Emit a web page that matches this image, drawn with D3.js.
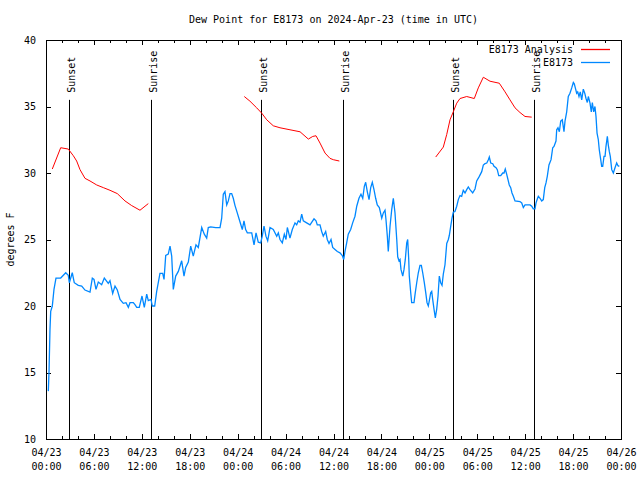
<!DOCTYPE html>
<html><head><meta charset="utf-8">
<script src="https://cdn.jsdelivr.net/npm/d3@7"></script>
<style>
body{margin:0;background:#fff}
svg{display:block}
text{font-family:"DejaVu Sans Mono",monospace;font-size:10px;fill:#000}
</style></head><body>
<svg id="c" width="640" height="480"></svg>
<script>
const chartTitle = "Dew Point for E8173 on 2024-Apr-23 (time in UTC)";
const yAxisLabel = "degrees F";
const startTime = "2024-04-23T00:00:00Z";
const spanHours = 72;
const yDomain = [10, 40];
const yTicks = [10, 15, 20, 25, 30, 35, 40];
const seriesNames = ["E8173 Analysis", "E8173"];
const seriesColors = ["#ff0000", "#0088ff"];

// observed dew point (hours since start, degrees F)
const obsHours = [
0.29,0.38,0.50,0.59,0.79,1.00,1.25,1.84,2.47,2.79,
2.92,3.29,3.54,4.04,4.47,4.88,5.51,5.80,6.01,6.26,
6.55,6.97,7.30,7.80,8.01,8.35,8.64,8.93,9.27,9.68,
10.02,10.31,10.52,10.93,11.14,11.36,11.68,12.02,12.31,12.61,
12.81,13.15,13.31,13.61,13.86,14.27,14.61,14.78,14.99,15.31,
15.53,15.74,15.94,16.24,16.57,16.99,17.28,17.49,17.82,18.12,
18.44,18.78,19.07,19.50,19.82,20.12,20.32,20.62,21.25,21.79,
22.00,22.20,22.41,22.63,22.83,23.04,23.25,23.45,23.67,23.95,
24.20,24.58,24.79,25.00,25.21,25.76,26.05,26.30,26.58,26.88,
27.08,27.30,27.54,27.76,28.05,28.46,28.89,29.09,29.30,29.59,
29.84,30.05,30.22,30.55,30.84,31.18,31.39,31.59,31.81,32.02,
32.22,32.64,33.06,33.56,33.81,33.97,34.31,34.52,34.72,35.02,
35.22,35.44,35.69,35.90,36.19,36.48,36.81,37.10,37.28,37.44,
37.65,37.85,38.15,38.40,38.69,38.91,39.19,39.44,39.66,39.86,
40.03,40.23,40.45,40.66,40.86,41.07,41.28,41.48,41.74,42.04,
42.24,42.45,42.57,42.74,42.86,43.08,43.29,43.49,43.70,43.92,
44.04,44.20,44.33,44.45,44.67,44.83,44.99,45.17,45.29,45.42,
45.49,45.67,45.79,46.08,46.24,46.42,46.62,46.83,47.00,47.17,
47.37,47.55,47.71,47.87,48.00,48.17,48.30,48.42,48.59,48.75,
48.92,49.09,49.25,49.42,49.59,49.75,49.96,50.18,50.38,50.50,
50.68,50.84,51.00,51.21,51.43,51.63,51.84,52.05,52.25,52.47,
52.68,52.88,53.09,53.43,53.72,53.93,54.26,54.56,54.76,54.97,
55.19,55.39,55.51,55.69,55.94,56.10,56.35,56.51,56.69,56.94,
57.19,57.35,57.51,57.69,57.85,58.01,58.19,58.35,58.52,58.73,
59.35,59.57,59.77,59.98,60.61,60.82,61.02,61.23,61.36,61.52,
61.65,61.86,62.07,62.27,62.45,62.61,62.77,62.98,63.24,63.45,
63.61,63.86,63.95,64.11,64.28,64.45,64.65,64.86,64.99,65.20,
65.40,65.61,65.83,66.03,66.15,66.28,66.45,66.58,66.74,66.90,
67.08,67.28,67.46,67.62,67.78,67.91,68.12,68.28,68.41,68.58,
68.74,68.87,69.00,69.16,69.28,69.46,69.58,69.71,69.87,70.00,
70.12,70.29,70.41,70.54,70.66,70.84,71.04,71.25,71.46,71.62,
71.79];
const obsValues = [
13.6,15.1,18.25,19.6,20.0,21.25,22.1,22.1,22.5,22.3,
21.75,22.5,21.75,21.55,21.5,21.2,21.05,22.1,22.0,21.25,
21.8,21.6,22.1,21.7,21.9,20.95,21.5,21.2,20.5,20.2,
20.25,19.9,20.25,20.25,20.1,19.9,19.9,20.75,19.9,20.9,
20.4,20.5,20.0,20.0,21.1,22.45,22.45,22.0,23.8,23.9,
24.5,23.75,21.25,22.25,22.6,23.4,22.25,22.9,23.3,24.5,
23.75,24.6,24.4,25.9,25.4,25.1,25.9,25.95,25.9,25.9,
26.6,28.4,28.6,27.6,27.9,28.45,28.45,28.1,27.55,27.0,
26.5,25.75,26.4,25.75,25.5,25.5,24.6,25.5,24.8,24.75,
25.25,26.0,25.25,24.9,25.9,25.75,25.25,25.5,25.0,24.75,
25.4,25.0,25.9,25.1,25.75,26.25,26.1,26.4,26.3,26.9,
26.4,26.25,26.1,26.55,26.4,26.1,26.1,25.6,25.25,25.6,
25.0,24.7,25.0,24.4,24.25,24.1,24.0,23.8,23.5,24.1,
24.75,25.4,25.75,26.25,26.75,27.5,28.1,28.4,28.1,29.0,
29.3,28.6,28.0,28.9,29.3,28.75,28.1,27.6,27.4,26.6,
27.0,27.2,26.5,25.25,24.1,26.0,27.25,28.1,27.0,25.0,
23.7,23.4,23.5,22.75,22.25,22.75,23.5,24.75,25.0,23.5,
22.25,21.0,20.25,20.25,21.0,21.75,22.5,23.05,23.05,22.5,
21.75,21.0,20.25,20.0,20.4,21.0,21.1,20.5,19.75,19.1,
19.75,20.75,22.25,21.75,21.55,22.4,23.1,24.7,25.0,25.3,
26.0,26.6,27.05,27.1,27.5,28.0,28.3,28.25,28.7,28.5,
28.75,28.95,28.75,28.5,28.8,29.4,29.75,30.1,30.6,30.7,
30.75,31.0,31.2,30.75,30.7,30.5,30.4,30.25,29.8,29.8,
30.0,30.0,30.3,29.9,29.5,29.1,28.9,28.5,28.25,27.9,
27.85,27.75,27.4,27.6,27.6,27.5,27.3,27.3,27.75,28.05,
28.25,28.1,27.9,28.0,28.9,29.25,29.75,30.6,31.0,31.9,
32.0,32.4,33.25,33.4,33.1,33.9,34.0,33.1,33.9,34.6,
35.75,36.0,36.4,36.8,36.7,36.4,36.0,36.1,35.75,36.1,
35.5,36.3,36.0,35.6,35.3,35.75,35.25,34.6,35.3,34.6,
35.0,34.25,33.0,32.5,31.75,31.0,30.5,30.5,31.25,31.25,
32.0,32.75,32.1,31.6,31.25,30.25,30.0,30.4,30.75,30.55,
30.5];

// analysis dew point (null = gap between runs)
const anaHours = [
0.79,1.84,2.79,3.42,3.84,4.26,4.88,5.51,6.35,7.18,8.01,8.93,9.89,10.73,11.77,12.81,
null,
24.83,25.54,26.38,27.01,27.64,28.46,29.30,30.55,31.81,32.85,33.40,33.81,34.31,34.94,35.56,35.98,36.73,
null,
48.80,49.75,50.18,50.59,51.00,51.43,51.84,52.68,53.63,54.13,54.76,55.60,56.76,57.48,58.10,58.73,59.35,59.98,60.82];
const anaValues = [
30.3,31.9,31.8,31.3,30.9,30.25,29.6,29.4,29.1,28.9,28.7,28.45,27.9,27.55,27.2,27.7,
null,
35.75,35.4,34.9,34.5,34.0,33.55,33.4,33.25,33.1,32.55,32.75,32.8,32.25,31.5,31.1,31.0,30.9,
null,
31.2,31.95,32.9,34.0,34.6,35.25,35.6,35.75,35.6,36.4,37.2,36.9,36.75,36.1,35.5,34.9,34.55,34.25,34.2];

// sun events (hours since start)
const sunHours = [2.92, 13.19, 26.92, 37.23, 51.00, 61.14];
const sunLabels = ["Sunset", "Sunrise", "Sunset", "Sunrise", "Sunset", "Sunrise"];
const sunLineTop = 35.5;

const margin = {left: 46, right: 19, top: 40, bottom: 41};
const W = 640, H = 480;
const svg = d3.select("#c");
const t0 = new Date(startTime);
const toDate = h => new Date(t0.getTime() + h * 3600e3);

const x = d3.scaleUtc().domain([t0, toDate(spanHours)]).range([margin.left, W - margin.right]);
const y = d3.scaleLinear().domain(yDomain).range([H - margin.bottom, margin.top]);

const x0 = margin.left, x1 = W - margin.right, yT = margin.top, yB = H - margin.bottom;

// title
svg.append("text").attr("x", (x0 + x1) / 2).attr("y", 23).attr("text-anchor", "middle").text(chartTitle);

// y label
svg.append("text").attr("transform", `translate(14,${(yT + yB) / 2}) rotate(-90)`)
  .attr("text-anchor", "middle").text(yAxisLabel);

function clean(g){ g.select(".domain").remove(); g.selectAll(".tick line").attr("stroke", "#000").attr("shape-rendering", "crispEdges"); }

// minor x ticks (2h)
svg.append("g").attr("transform", `translate(0,${yB})`)
  .call(d3.axisBottom(x).ticks(d3.utcHour.every(2)).tickSize(-3).tickFormat(""))
  .call(clean);
svg.append("g").attr("transform", `translate(0,${yT})`)
  .call(d3.axisTop(x).ticks(d3.utcHour.every(2)).tickSize(-3).tickFormat(""))
  .call(clean);

// major x ticks (6h) with labels
const fDay = d3.utcFormat("%m/%d"), fTime = d3.utcFormat("%H:%M");
const gx = svg.append("g").attr("transform", `translate(0,${yB})`)
  .call(d3.axisBottom(x).ticks(d3.utcHour.every(6)).tickSize(-5).tickFormat(""))
  .call(clean);
gx.selectAll(".tick").each(function(d){
  const t = d3.select(this).select("text").attr("y", null).attr("dy", null).text(null)
    .attr("fill", "#000").attr("font-family", null).attr("font-size", null);
  t.append("tspan").attr("x", 0).attr("y", 17).text(fDay(d));
  t.append("tspan").attr("x", 0).attr("y", 31).text(fTime(d));
});
svg.append("g").attr("transform", `translate(0,${yT})`)
  .call(d3.axisTop(x).ticks(d3.utcHour.every(6)).tickSize(-5).tickFormat(""))
  .call(clean);

// y axes
const gy = svg.append("g").attr("transform", `translate(${x0},0)`)
  .call(d3.axisLeft(y).tickValues(yTicks).tickSize(-5).tickPadding(10).tickFormat(d3.format("d")))
  .call(clean);
gy.selectAll("text").attr("fill", "#000").attr("font-family", null).attr("font-size", null);
svg.append("g").attr("transform", `translate(${x1},0)`)
  .call(d3.axisRight(y).tickValues(yTicks).tickSize(-5).tickFormat(""))
  .call(clean);

// frame
svg.append("rect").attr("x", x0).attr("y", yT).attr("width", x1 - x0).attr("height", yB - yT)
  .attr("fill", "none").attr("stroke", "#000").attr("shape-rendering", "crispEdges");

// sun lines
const sun = svg.append("g");
sunHours.forEach((h, i) => {
  const sx = Math.round(x(toDate(h))) + 0.5;
  sun.append("line").attr("x1", sx).attr("x2", sx).attr("y1", y(sunLineTop)).attr("y2", y(yDomain[0]))
    .attr("stroke", "#000").attr("stroke-width", 1);
  sun.append("text").attr("transform", `translate(${sx + 5},${y(sunLineTop) - 7}) rotate(-90)`)
    .text(sunLabels[i]);
});

// series
const line = d3.line().defined(d => d[1] != null).x(d => x(toDate(d[0]))).y(d => y(d[1]));
const anaData = anaHours.map((h, i) => [h, anaValues[i]]);
const obsData = obsHours.map((h, i) => [h, obsValues[i]]);
svg.append("path").datum(anaData).attr("d", line).attr("fill", "none")
  .attr("stroke", seriesColors[0]).attr("stroke-width", 1);
svg.append("path").datum(obsData).attr("d", line).attr("fill", "none")
  .attr("stroke", seriesColors[1]).attr("stroke-width", 1.3);

// legend
const leg = svg.append("g");
seriesNames.forEach((n, i) => {
  const ly = 49.5 + i * 13;
  leg.append("text").attr("x", 573).attr("y", ly + 3.5).attr("text-anchor", "end").text(n);
  leg.append("line").attr("x1", 581).attr("x2", 610).attr("y1", ly).attr("y2", ly)
    .attr("stroke", seriesColors[i]).attr("stroke-width", 1.3);
});
</script>
</body></html>
